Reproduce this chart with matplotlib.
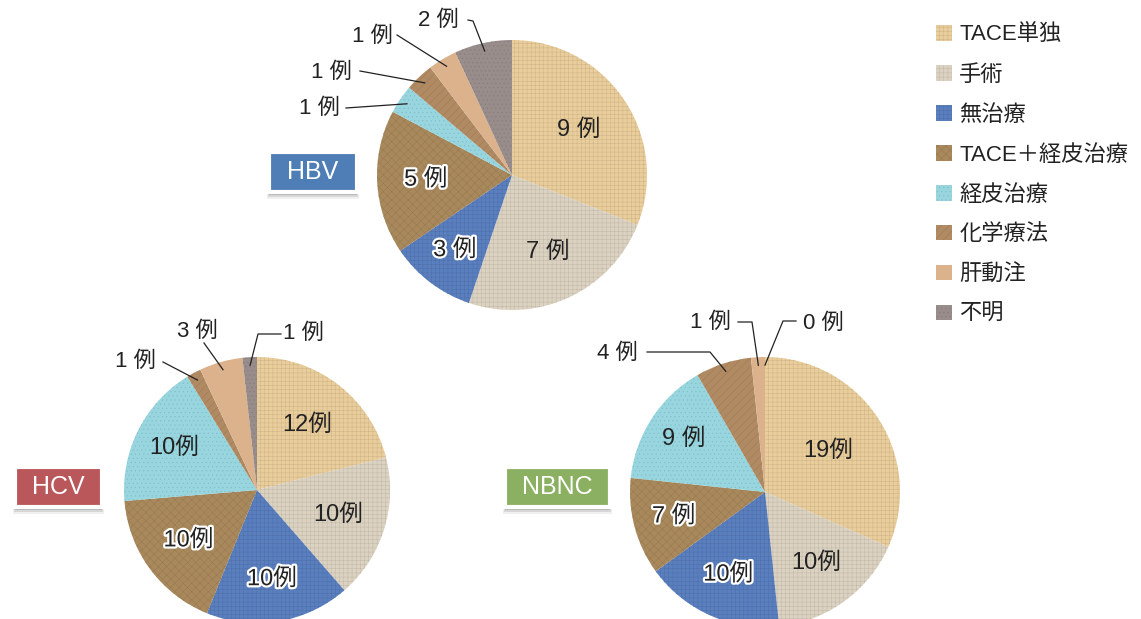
import matplotlib
matplotlib.use("Agg")
import matplotlib.pyplot as plt
import numpy as np
from matplotlib.patches import FancyBboxPatch, Patch
from matplotlib.colors import to_rgb
import matplotlib.patheffects as pe

plt.rcParams['font.family'] = ['Liberation Sans', 'Noto Sans CJK JP', 'DejaVu Sans']
plt.rcParams['hatch.linewidth'] = 0.35

# Treatment categories (legend order, also slice order clockwise from 12 o'clock)
categories = ["TACE単独", "手術", "無治療", "TACE＋経皮治療", "経皮治療", "化学療法", "肝動注", "不明"]
colors = ["#e9cd9b", "#dcd2c1", "#5a7fbf", "#a9895c", "#98d6df", "#b08a62", "#dcb28d", "#988d8b"]
hatches = ["++++", "++++", "++++", "xxxx", "....", "////", "", "...."]

# Number of cases per group
hbv_counts = [9, 7, 3, 5, 1, 1, 1, 2]
hcv_counts = [12, 10, 10, 10, 10, 1, 3, 1]
nbnc_counts = [19, 10, 10, 7, 9, 4, 1, 0]

groups = ["HBV", "HCV", "NBNC"]
group_colors = ["#4f7db5", "#b9575a", "#8bb061"]

W, H = 1141, 619
fig = plt.figure(figsize=(W / 100, H / 100), dpi=100)
fig.patch.set_facecolor("white")


def fx(px):
    return px / W


def fy(py):
    return 1 - py / H


def darker(c, f=0.88):
    r, g, b = to_rgb(c)
    return (r * f, g * f, b * f)


def fmt(v):
    return f"{v}例" if v >= 10 else f"{v} 例"


def draw_pie(counts, cx, cy, r, dist, outlined, outside):
    """counts: data; cx, cy, r: pie center/radius in pixels.
    outside: dict slice index -> (text_px, [bend points px]) for leader-labelled slices."""
    ax = fig.add_axes([fx(cx - r), fy(cy + r), 2 * r / W, 2 * r / H])
    wedges, _ = ax.pie(counts, colors=colors, startangle=90, counterclock=False,
                       radius=1.0, wedgeprops=dict(linewidth=0))
    ax.set_xlim(-1, 1)
    ax.set_ylim(-1, 1)
    ax.set_aspect("equal")
    ax.axis("off")
    for w, c, h in zip(wedges, colors, hatches):
        w.set_edgecolor(darker(c))
        w.set_linewidth(0)
        w.set_hatch(h)

    def to_data(px, py):
        return (px - cx) / r, (cy - py) / r

    for i, (w, v) in enumerate(zip(wedges, counts)):
        mid = np.deg2rad((w.theta1 + w.theta2) / 2)
        if i in outside:
            (tx, ty), bends = outside[i]
            ex, ey = 0.94 * np.cos(mid), 0.94 * np.sin(mid)
            pts = [to_data(*p) for p in bends] + [(ex, ey)]
            xs, ys = zip(*pts)
            ax.plot(xs, ys, color="#222222", lw=0.9, clip_on=False)
            dx, dy = to_data(tx, ty)
            ax.text(dx, dy, fmt(v), ha="center", va="center", fontsize=16,
                    color="#222222", clip_on=False)
        elif v > 0:
            d = dist[i]
            t = ax.text(d * np.cos(mid), d * np.sin(mid), fmt(v), ha="center",
                        va="center", fontsize=17, color="#222222")
            if i in outlined:
                t.set_path_effects([pe.withStroke(linewidth=3.2, foreground="white")])
    return wedges


def badge(text, color, x0, y0, x1, y1):
    # soft drop shadow below the badge
    for k, a in enumerate([0.06, 0.10, 0.16]):
        sh = FancyBboxPatch((fx(x0 - 2 + k), fy(y1 + 7 - 2 * k)), fx(x1 - x0 + 4 - 2 * k), 14 / H,
                            boxstyle="square,pad=0", transform=fig.transFigure,
                            facecolor="black", alpha=a, edgecolor="none", zorder=5)
        fig.patches.append(sh)
    box = FancyBboxPatch((fx(x0), fy(y1)), fx(x1 - x0), (y1 - y0) / H,
                         boxstyle="square,pad=0", transform=fig.transFigure,
                         facecolor=color, edgecolor="white", linewidth=3, zorder=6)
    fig.patches.append(box)
    fig.text(fx((x0 + x1) / 2), fy((y0 + y1) / 2), text, ha="center", va="center",
             color="white", fontsize=18, zorder=7)


# HBV
draw_pie(hbv_counts, 512, 175, 135, [0.6, 0.63, 0.7, 0.64], {2, 3},
         {4: ((319, 108), [(346, 108)]),
          5: ((331, 72), [(360, 71)]),
          6: ((372, 36), [(397, 35)]),
          7: ((438, 20), [(468, 20), (473, 21)])})
# HCV
draw_pie(hcv_counts, 257, 490, 133, [0.62, 0.64, 0.68, 0.64, 0.7], {2, 3},
         {5: ((135, 361), [(163, 362)]),
          6: ((197, 331), [(204, 343)]),
          7: ((303, 333), [(281, 334), (258, 334)])})
# NBNC
draw_pie(nbnc_counts, 765, 492, 135, [0.56, 0.65, 0.67, 0.7, 0.72], {2, 3},
         {5: ((617, 353), [(647, 352), (710, 352)]),
          6: ((710, 322), [(738, 322), (752, 322)]),
          7: ((823, 323), [(796, 321), (783, 321)])})

badge("HBV", group_colors[0], 269, 152, 357, 192)
badge("HCV", group_colors[1], 15, 467, 102, 507)
badge("NBNC", group_colors[2], 505, 467, 610, 507)

handles = [Patch(facecolor=c, edgecolor=darker(c), hatch=h, linewidth=0)
           for c, h in zip(colors, hatches)]
leg = fig.legend(handles, categories, loc="upper left", bbox_to_anchor=(fx(936), fy(25)),
                 frameon=False, fontsize=16, handlelength=0.7, handleheight=0.7,
                 handletextpad=0.35, labelspacing=0.85, borderaxespad=0, borderpad=0)
for t in leg.get_texts():
    t.set_color("#222222")

fig.savefig("out.png", dpi=100)
